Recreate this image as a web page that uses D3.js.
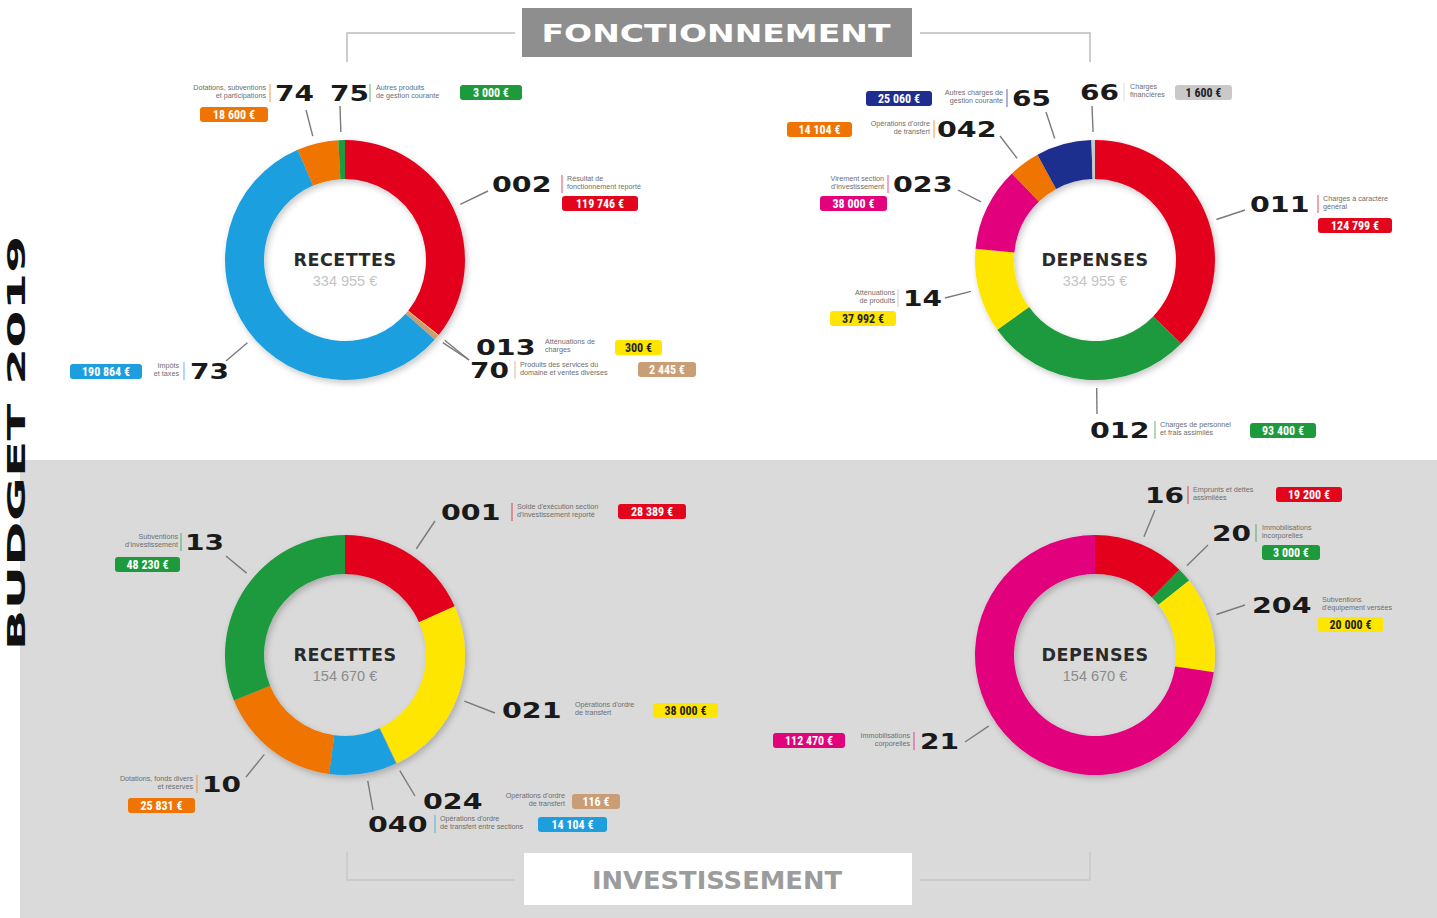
<!DOCTYPE html>
<html><head><meta charset="utf-8">
<script src="https://cdn.jsdelivr.net/npm/d3@7"></script>
<style>body{margin:0;background:#fff;overflow:hidden}svg{display:block}</style>
</head><body>
<svg id="c" width="1437" height="918"></svg>
<script>
// ---------- DATA ----------
const sectionTitles = ["FONCTIONNEMENT", "INVESTISSEMENT"];
const sideTitle = "BUDGET 2019";

const fRecCodes  = ["002","013","70","73","74","75"];
const fRecValues = [119746, 300, 2445, 190864, 18600, 3000];
const fRecLabels = [["Résultat de","fonctionnement reporté"],["Atténuations de","charges"],["Produits des services du","domaine et ventes diverses"],["Impôts","et taxes"],["Dotations, subventions","et participations"],["Autres produits","de gestion courante"]];

const fDepCodes  = ["011","012","14","023","042","65","66"];
const fDepValues = [124799, 93400, 37992, 38000, 14104, 25060, 1600];
const fDepLabels = [["Charges à caractère","général"],["Charges de personnel","et frais assimilés"],["Atténuations","de produits"],["Virement section","d'investissement"],["Opérations d'ordre","de transfert"],["Autres charges de","gestion courante"],["Charges","financières"]];

const iRecCodes  = ["001","021","024","040","10","13"];
const iRecValues = [28389, 38000, 116, 14104, 25831, 48230];
const iRecLabels = [["Solde d'exécution section","d'investissement reporté"],["Opérations d'ordre","de transfert"],["Opérations d'ordre","de transfert"],["Opérations d'ordre","de transfert entre sections"],["Dotations, fonds divers","et réserves"],["Subventions","d'investissement"]];

const iDepCodes  = ["16","20","204","21"];
const iDepValues = [19200, 3000, 20000, 112470];
const iDepLabels = [["Emprunts et dettes","assimilées"],["Immobilisations","incorporelles"],["Subventions","d'équipement versées"],["Immobilisations","corporelles"]];

// ---------- STYLE ----------
const C = {red:"#e3051b", yellow:"#ffe600", blue:"#1d9fdf", orange:"#ef7404", green:"#1c9a3c", magenta:"#e2037c", navy:"#1f2d8e", tan:"#c99d76", gray:"#c9c9c9"};
const fRecColors = [C.red, C.yellow, C.tan, C.blue, C.orange, C.green];
const fDepColors = [C.red, C.green, C.yellow, C.magenta, C.orange, C.navy, C.gray];
const iRecColors = [C.red, C.yellow, C.tan, C.blue, C.orange, C.green];
const iDepColors = [C.red, C.green, C.yellow, C.magenta];

// label layout: n = number [x, baseline], s = separator x, d = description [x, y, anchor], b = box [x, y, w], l = leader end
const fRecLayout = [
  {n:[492,192], s:562, d:[567,181,"start"], b:[562,196,76], l:[488,191]},
  {n:[476,355], s:null, d:[545,344,"start"], b:[615,340,47], l:[469,360]},
  {n:[470,378], s:515, d:[520,367,"start"], b:[638,362,58], l:[469,360]},
  {n:[190,379], s:184, d:[179,368,"end"], b:[70,364,72], l:[226,361]},
  {n:[275,101], s:270, d:[266,90,"end"], b:[200,107,68], l:[306,110]},
  {n:[330,101], s:370, d:[376,90,"start"], b:[460,85,62], l:[340,106]}
];
const fDepLayout = [
  {n:[1250,212], s:1318, d:[1323,201,"start"], b:[1318,218,74], l:[1245,210]},
  {n:[1090,438], s:1155, d:[1160,427,"start"], b:[1250,423,66], l:[1097,414]},
  {n:[903,306], s:898, d:[895,295,"end"], b:[830,311,66], l:[945,298]},
  {n:[893,192], s:888, d:[884,181,"end"], b:[820,196,67], l:[958,190]},
  {n:[937,137], s:934, d:[930,126,"end"], b:[787,122,65], l:[1000,136]},
  {n:[1012,106], s:1007, d:[1003,95,"end"], b:[866,91,66], l:[1046,112]},
  {n:[1080,100], s:1124, d:[1130,89,"start"], b:[1175,85,57], l:[1092,106]}
];
const iRecLayout = [
  {n:[441,520], s:512, d:[517,509,"start"], b:[618,504,68], l:[435,521]},
  {n:[502,718], s:null, d:[575,707,"start"], b:[653,703,65], l:[495,713]},
  {n:[423,809], s:null, d:[565,798,"end"], b:[572,794,48], l:[415,796]},
  {n:[368,832], s:435, d:[440,821,"start"], b:[538,817,69], l:[373,810]},
  {n:[202,792], s:197, d:[193,781,"end"], b:[128,798,67], l:[246,777]},
  {n:[185,550], s:181, d:[178,539,"end"], b:[115,557,65], l:[226,556]}
];
const iDepLayout = [
  {n:[1145,503], s:1188, d:[1193,492,"start"], b:[1276,487,66], l:[1155,510]},
  {n:[1212,541], s:1256, d:[1262,530,"start"], b:[1262,545,58], l:[1208,545]},
  {n:[1252,613], s:null, d:[1322,602,"start"], b:[1318,617,65], l:[1245,605]},
  {n:[920,749], s:914, d:[910,738,"end"], b:[773,733,72], l:[965,742]}
];

const charts = [
  {cx:345, cy:260, title:"RECETTES", codes:fRecCodes, values:fRecValues, labels:fRecLabels, colors:fRecColors, layout:fRecLayout, totalColor:"#c4c4c4"},
  {cx:1095, cy:260, title:"DEPENSES", codes:fDepCodes, values:fDepValues, labels:fDepLabels, colors:fDepColors, layout:fDepLayout, totalColor:"#c4c4c4"},
  {cx:345, cy:655, title:"RECETTES", codes:iRecCodes, values:iRecValues, labels:iRecLabels, colors:iRecColors, layout:iRecLayout, totalColor:"#8a8a8a"},
  {cx:1095, cy:655, title:"DEPENSES", codes:iDepCodes, values:iDepValues, labels:iDepLabels, colors:iDepColors, layout:iDepLayout, totalColor:"#8a8a8a"}
];

const fmt = v => String(v).replace(/\B(?=(\d{3})+(?!\d))/g, "\u00a0") + "\u00a0€";
const NUMFONT = "'DejaVu Sans', sans-serif";
const BOXFONT = "'Liberation Sans Narrow', 'Roboto Condensed', 'Liberation Sans', sans-serif";

const svg = d3.select("#c");
const defs = svg.append("defs");
const f = defs.append("filter").attr("id","sh").attr("x","-20%").attr("y","-20%").attr("width","140%").attr("height","140%");
f.append("feDropShadow").attr("dx",2).attr("dy",3).attr("stdDeviation",3).attr("flood-color","#000").attr("flood-opacity",0.22);

// backgrounds
svg.append("rect").attr("x",0).attr("y",0).attr("width",1437).attr("height",918).attr("fill","#fff");
svg.append("rect").attr("x",20).attr("y",460).attr("width",1417).attr("height",458).attr("fill","#dadada");

// side title
svg.append("text").attr("transform","translate(25,443) rotate(-90)")
  .attr("text-anchor","middle").attr("font-family",NUMFONT).attr("font-weight","bold")
  .attr("font-size",24).attr("fill","#111").attr("textLength",415).attr("lengthAdjust","spacingAndGlyphs")
  .text(sideTitle);

// section brackets
const br = svg.append("g").attr("fill","none").attr("stroke","#bdbdbd").attr("stroke-width",1.5);
br.append("path").attr("d","M347,62V33H515 M920,33H1090V62");
br.append("path").attr("d","M347,852V880H515 M920,880H1090V852").attr("stroke","#c9c9c9");

// section title boxes
svg.append("rect").attr("x",522).attr("y",8).attr("width",390).attr("height",49).attr("fill","#8e8e8e");
svg.append("text").attr("x",716).attr("y",42).attr("text-anchor","middle").attr("font-family",NUMFONT)
  .attr("font-weight","bold").attr("font-size",25).attr("fill","#fff")
  .attr("textLength",349).attr("lengthAdjust","spacingAndGlyphs").text(sectionTitles[0]);
svg.append("rect").attr("x",524).attr("y",853).attr("width",388).attr("height",52).attr("fill","#fff");
svg.append("text").attr("x",717).attr("y",889).attr("text-anchor","middle").attr("font-family",NUMFONT)
  .attr("font-weight","bold").attr("font-size",24).attr("fill","#9c9c9c")
  .attr("textLength",250).attr("lengthAdjust","spacingAndGlyphs").text(sectionTitles[1]);

const R = 120, r = 81;
const arc = d3.arc().innerRadius(r).outerRadius(R);
const pie = d3.pie().sort(null).value(d => d);

charts.forEach(ch => {
  const g = svg.append("g").attr("transform", `translate(${ch.cx},${ch.cy})`);
  const arcs = pie(ch.values);
  g.append("g").attr("filter","url(#sh)").selectAll("path").data(arcs).join("path")
    .attr("d", arc).attr("fill", (d,i) => ch.colors[i]);
  g.append("text").attr("y",6).attr("text-anchor","middle").attr("font-family",NUMFONT)
    .attr("font-weight","bold").attr("font-size",17.5).attr("fill","#2a2a2a").attr("letter-spacing",0.5).text(ch.title);
  g.append("text").attr("y",26).attr("text-anchor","middle").attr("font-family","'Liberation Sans', sans-serif")
    .attr("font-size",14.5).attr("fill",ch.totalColor).text(fmt(d3.sum(ch.values)));

  arcs.forEach((a,i) => {
    const L = ch.layout[i];
    const col = ch.colors[i];
    // leader from ring toward label
    const ex = L.l[0]-ch.cx, ey = L.l[1]-ch.cy;
    let ang = Math.atan2(ex, -ey); if (ang < 0) ang += 2*Math.PI;
    const pad = 0.02;
    const lo = a.startAngle + Math.min(pad,(a.endAngle-a.startAngle)/2), hi = a.endAngle - Math.min(pad,(a.endAngle-a.startAngle)/2);
    ang = Math.max(lo, Math.min(hi, ang));
    const rr = R + 8;
    svg.append("line").attr("x1", ch.cx + rr*Math.sin(ang)).attr("y1", ch.cy - rr*Math.cos(ang))
      .attr("x2", L.l[0]).attr("y2", L.l[1]).attr("stroke","#7a7a7a").attr("stroke-width",1.4);
    // number
    const code = ch.codes[i];
    svg.append("text").attr("x",L.n[0]).attr("y",L.n[1]).attr("font-family",NUMFONT).attr("font-weight","bold")
      .attr("font-size",22).attr("fill","#1a1a1a").attr("textLength", code.length*20.5-2).attr("lengthAdjust","spacingAndGlyphs")
      .text(code);
    if (L.s !== null) {
      svg.append("line").attr("x1",L.s).attr("x2",L.s).attr("y1",L.n[1]-17).attr("y2",L.n[1]+1)
        .attr("stroke", col === C.yellow ? "#bbb" : col).attr("stroke-opacity",0.6).attr("stroke-width",1.2);
    }
    // description
    const dt = svg.append("text").attr("x",L.d[0]).attr("y",L.d[1]).attr("text-anchor",L.d[2])
      .attr("font-family","'Liberation Sans', sans-serif").attr("font-size",7.2).attr("fill","#6e6e6e");
    ch.labels[i].forEach((t,k) => dt.append("tspan").attr("x",L.d[0]).attr("dy", k ? 7.5 : 0).text(t));
    // value box
    svg.append("rect").attr("x",L.b[0]).attr("y",L.b[1]).attr("width",L.b[2]).attr("height",15).attr("rx",3)
      .attr("fill", col);
    const dark = (col === C.yellow || col === C.gray);
    svg.append("text").attr("x",L.b[0]+L.b[2]/2).attr("y",L.b[1]+11.5).attr("text-anchor","middle")
      .attr("font-family",BOXFONT).attr("font-weight","bold").attr("font-size",12)
      .attr("fill", dark ? "#222" : "#fff").text(fmt(ch.values[i]));
  });
});
</script>
</body></html>
